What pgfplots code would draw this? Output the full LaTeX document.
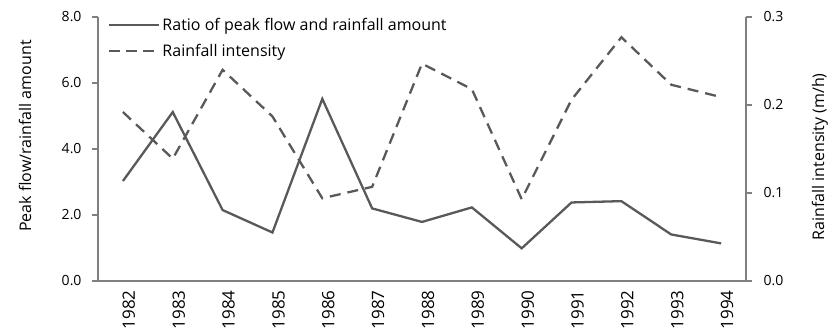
\documentclass[border=0pt]{standalone}
\usepackage{pgfplots}
\pgfplotsset{compat=1.18}
\usepackage{fontspec}
\setmainfont{Open Sans}

\definecolor{linegray}{HTML}{595959}
\definecolor{axisgray}{HTML}{808080}

% year index 0..12 = 1982..1994
\pgfplotstableread{
x ratio
0 3.03
1 5.12
2 2.15
3 1.47
4 5.52
5 2.20
6 1.79
7 2.23
8 0.99
9 2.38
10 2.42
11 1.41
12 1.14
}\ratiodata

\pgfplotstableread{
x intensity
0 0.192
1 0.139
2 0.240
3 0.187
4 0.094
5 0.107
6 0.247
7 0.218
8 0.093
9 0.206
10 0.277
11 0.223
12 0.209
}\intensitydata

\pgfplotsset{
  common/.style={
    scale only axis,
    width=648bp, height=264bp,
    xmin=-0.5, xmax=12.5,
    font=\fontsize{14bp}{16bp}\selectfont,
    axis line style={axisgray, line width=1.6pt},
    tick style={axisgray, line width=1.3pt},
    major tick length=6bp,
    /pgf/number format/assume math mode=true,
    yticklabel style={/pgf/number format/fixed, /pgf/number format/fixed zerofill,
      /pgf/number format/precision=1},
  },
}

\begin{document}
\begin{tikzpicture}
\begin{axis}[
  common,
  axis x line*=bottom,
  axis y line*=left,
  ymin=0, ymax=8,
  ytick={0,2,4,6,8},
  yticklabel style={xshift=-7bp},
  xtick={0,...,12},
  xticklabels={1982,1983,1984,1985,1986,1987,1988,1989,1990,1991,1992,1993,1994},
  xticklabel style={rotate=90, anchor=east, font=\fontsize{17bp}{19bp}\selectfont, yshift=-6bp},
  xtick style={draw=none},
  minor xtick={-0.5,0.5,...,12.5},
  minor tick length=8bp,
  minor tick style={axisgray, line width=1.3pt},
  ytick align=outside, xtick align=outside,
  ylabel={Peak flow/rainfall amount},
  ylabel style={at={(axis description cs:-0.1127,0.549)}, anchor=center, font=\fontsize{16bp}{18bp}\selectfont},
  legend cell align=left,
  legend style={draw=none, fill=none, at={(axis description cs:0.0,1.0)}, anchor=north west,
    xshift=6bp, yshift=3bp,
    font=\fontsize{16bp}{18bp}\selectfont, row sep=8bp, inner xsep=4bp},
  legend image code/.code={\draw[#1] (0bp,0bp) -- (46bp,0bp); \path (0bp,0bp) -- (50bp,0bp);},
]
\addplot[linegray, line width=2.3pt] table[x=x, y=ratio] {\ratiodata};
\addlegendentry{Ratio of peak flow and rainfall amount}
\addlegendimage{linegray, line width=2.3pt, dash pattern=on 11bp off 6bp}
\addlegendentry{Rainfall intensity}
\end{axis}
\begin{axis}[
  common,
  axis x line=none,
  axis y line*=right,
  ymin=0, ymax=0.3,
  ytick={0,0.1,0.2,0.3},
  yticklabel style={xshift=8bp},
  ytick align=outside,
  ylabel={Rainfall intensity (m/h)},
  ylabel style={at={(axis description cs:1.114,0.47)}, anchor=center, font=\fontsize{16bp}{18bp}\selectfont},
]
\addplot[linegray, line width=2.3pt, dash pattern=on 11bp off 7bp] table[x=x, y=intensity] {\intensitydata};
\end{axis}
\pgfresetboundingbox
\path (current axis.south west) ++(-98bp,-54bp) rectangle ([shift={(92bp,17bp)}]current axis.north east);
\end{tikzpicture}
\end{document}
